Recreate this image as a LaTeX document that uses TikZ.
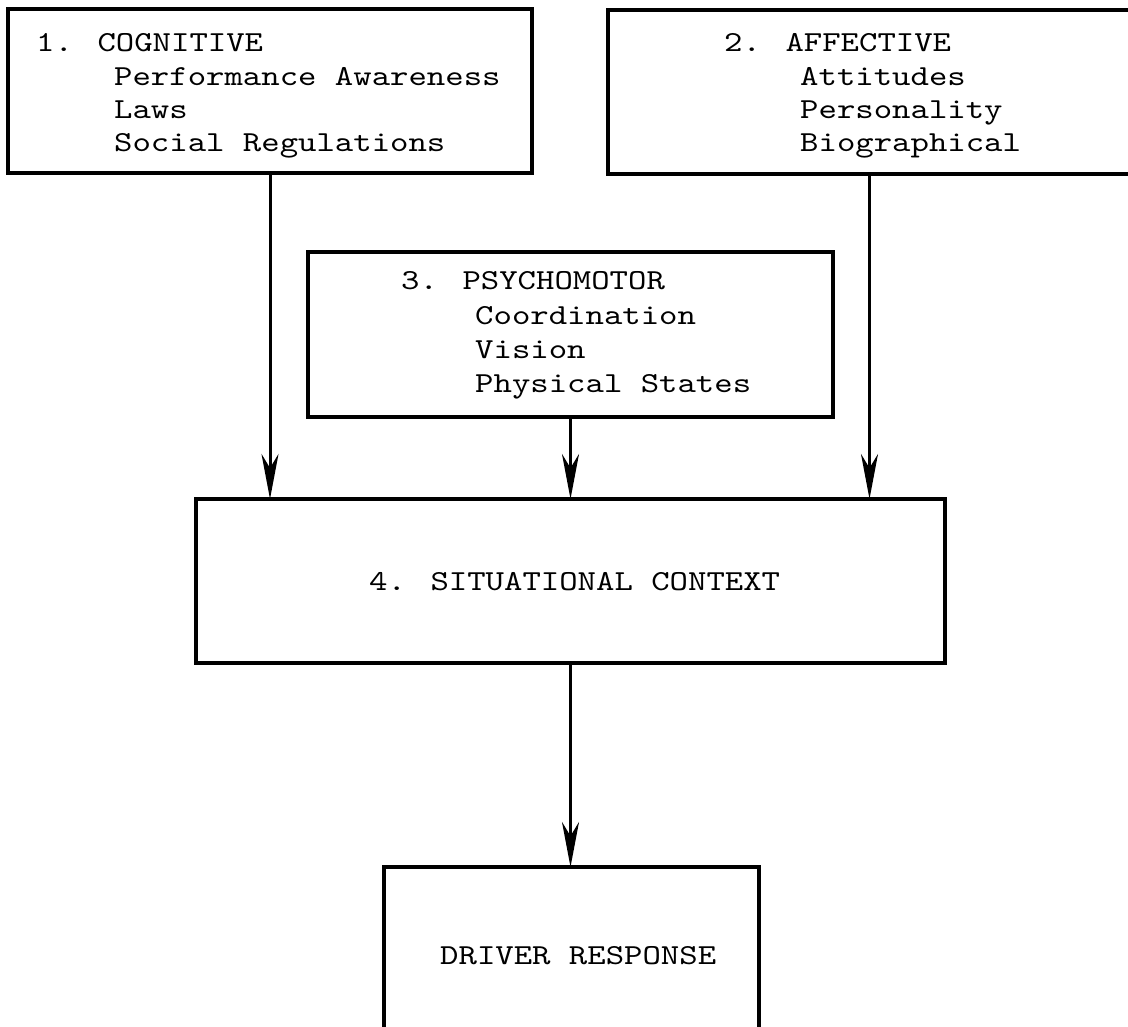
\documentclass[tikz,border=0pt]{standalone}
\usepackage{fontspec}
\newfontfamily\tw[Extension=.otf, FakeStretch=1.2085]{lmmono10-regular}
\usetikzlibrary{arrows.meta}
\begin{document}
\begin{tikzpicture}[x=1pt,y=-1pt,
  box/.style={draw, line width=3.2pt, inner sep=0pt, outer sep=0pt},
  lbl/.style={anchor=base west, inner sep=0pt, font=\tw\fontsize{29}{34}\selectfont},
  arr/.style={line width=3pt, -{Stealth[length=45pt,width=17pt,inset=14pt]}}]
\clip (0,0) rectangle (1128,1027);
\fill[white] (0,0) rectangle (1128,1027);
% boxes
\node[box, minimum width=524pt, minimum height=164pt] (b1) at (270,91) {};
\node[box, minimum width=523pt, minimum height=164pt] (b2) at (869.5,92) {};
\node[box, minimum width=525pt, minimum height=165pt] (b3) at (570.5,334.5) {};
\node[box, minimum width=749pt, minimum height=164pt] (b4) at (570.5,581) {};
\node[box, minimum width=375pt, minimum height=200pt] (b5) at (571.5,967) {};
% texts
\node[lbl] (t1a) at (36,52) {1. COGNITIVE};
\node[lbl] (t1b) at (114,86) {Performance Awareness};
\node[lbl] (t1c) at (114,119) {Laws};
\node[lbl] (t1d) at (114,152) {Social Regulations};
\node[lbl] (t2a) at (724,52) {2. AFFECTIVE};
\node[lbl] (t2b) at (800,86) {Attitudes};
\node[lbl] (t2c) at (800,119) {Personality};
\node[lbl] (t2d) at (800,152) {Biographical};
\node[lbl] (t3a) at (401,290) {3. PSYCHOMOTOR};
\node[lbl] (t3b) at (475,324) {Coordination};
\node[lbl] (t3c) at (475,358) {Vision};
\node[lbl] (t3d) at (475,392) {Physical States};
\node[lbl] (t4) at (369,590) {4. SITUATIONAL CONTEXT};
\node[lbl] (t5) at (440,964) {DRIVER RESPONSE};
% arrows
\draw[arr] (b1.south) -- (b1.south |- b4.north);
\draw[arr] (b3.south) -- (b3.south |- b4.north);
\draw[arr] (b2.south) -- (b2.south |- b4.north);
\draw[arr] (b4.south) -- (b4.south |- b5.north);
\end{tikzpicture}
\end{document}
